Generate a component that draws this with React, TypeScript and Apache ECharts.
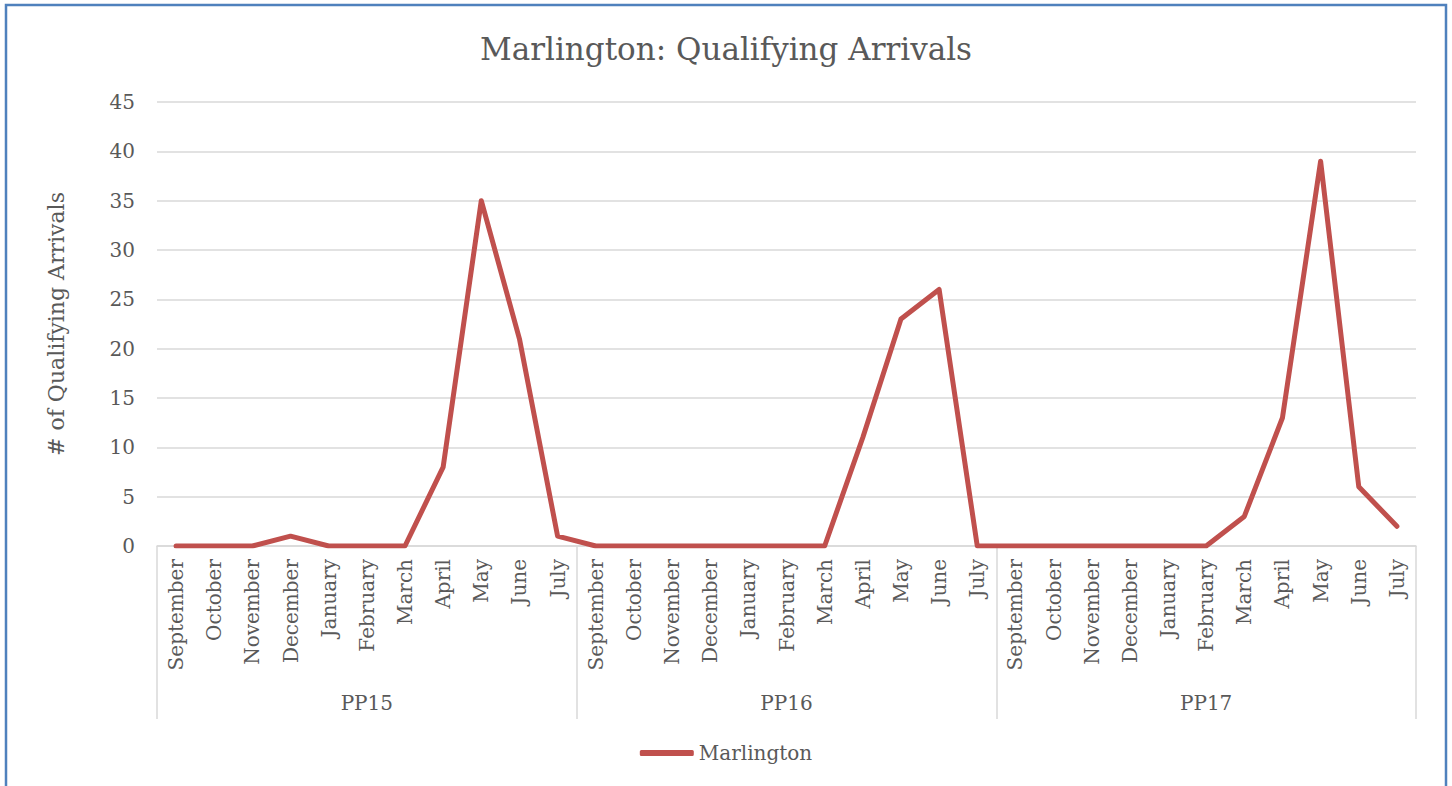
import React, { useEffect, useRef } from "react";
import * as echarts from "echarts";

const months = ["September", "October", "November", "December", "January", "February", "March", "April", "May", "June", "July"];
const groups = ["PP15", "PP16", "PP17"];
const pp15 = [0, 0, 0, 1, 0, 0, 0, 8, 35, 21, 1];
const pp16 = [0, 0, 0, 0, 0, 0, 0, 11, 23, 26, 0];
const pp17 = [0, 0, 0, 0, 0, 0, 3, 13, 39, 6, 2];
const seriesName = "Marlington";
const yTicks = { min: 0, max: 45, interval: 5 };

const FONT = "DejaVu Serif";
const GRAY = "#595959";

export default function App() {
  const ref = useRef<HTMLDivElement>(null);
  useEffect(() => {
    document.body.style.margin = "0";
    const chart = echarts.init(ref.current!, null, { renderer: "svg" });
    const cats: string[] = [];
    groups.forEach(() => months.forEach((m) => cats.push(m)));
    const values = [...pp15, ...pp16, ...pp17];
    chart.setOption({
      animation: false,
      backgroundColor: "#ffffff",
      title: {
        text: "Marlington: Qualifying Arrivals",
        left: "center",
        top: 28,
        textStyle: { fontFamily: FONT, fontSize: 31, fontWeight: "normal", color: GRAY },
      },
      legend: {
        bottom: 18,
        left: "center",
        itemWidth: 54,
        itemHeight: 6,
        icon: "roundRect",
        textStyle: { fontFamily: FONT, fontSize: 20, color: GRAY },
        data: [seriesName],
      },
      grid: { left: 157, right: 36, top: 102, bottom: 240 },
      xAxis: [
        {
          type: "category",
          data: cats,
          boundaryGap: true,
          axisLine: { lineStyle: { color: "#d9d9d9", width: 1.5 } },
          axisTick: { show: false },
          axisLabel: {
            interval: 0,
            rotate: 90,
            margin: 13,
            fontFamily: FONT,
            fontSize: 20,
            color: GRAY,
          },
        },
        {
          type: "category",
          position: "bottom",
          data: groups,
          boundaryGap: true,
          axisLine: { show: false },
          axisTick: { show: true, length: 173, lineStyle: { color: "#d9d9d9", width: 1.5 } },
          axisLabel: {
            margin: 147,
            fontFamily: FONT,
            fontSize: 20,
            color: GRAY,
          },
        },
      ],
      yAxis: {
        type: "value",
        min: yTicks.min,
        max: yTicks.max,
        interval: yTicks.interval,
        name: "# of Qualifying Arrivals",
        nameLocation: "middle",
        nameGap: 90,
        nameRotate: 90,
        nameTextStyle: { fontFamily: FONT, fontSize: 22, color: GRAY },
        axisLine: { show: false },
        axisTick: { show: false },
        axisLabel: { margin: 22, fontFamily: FONT, fontSize: 20, color: GRAY },
        splitLine: { lineStyle: { color: "#d9d9d9", width: 1.5 } },
      },
      series: [
        {
          name: seriesName,
          type: "line",
          xAxisIndex: 0,
          data: values,
          symbol: "none",
          lineStyle: { color: "#c0504d", width: 5, cap: "round", join: "round" },
          itemStyle: { color: "#c0504d" },
        },
      ],
      graphic: [
        {
          type: "rect",
          shape: { x: 6, y: 5, width: 1440, height: 800 },
          style: { fill: "none", stroke: "#4f81bd", lineWidth: 2.5 },
          silent: true,
        },
      ],
    });
    return () => chart.dispose();
  }, []);
  return <div ref={ref} style={{ width: 1452, height: 786 }} />;
}
